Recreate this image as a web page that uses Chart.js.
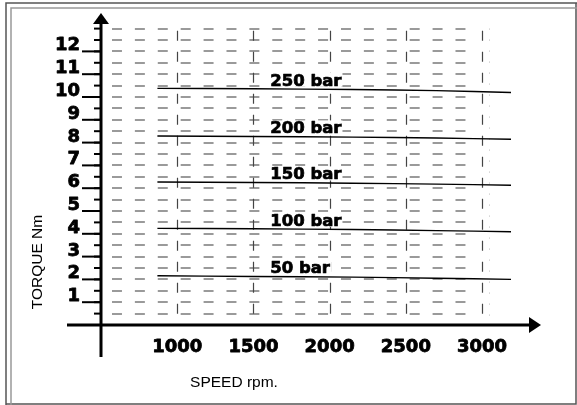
<!DOCTYPE html>
<html>
<head>
<meta charset="utf-8">
<title>Torque vs speed</title>
<script src="https://cdn.jsdelivr.net/npm/chart.js@4.4.1/dist/chart.umd.min.js"></script>
<style>
  html, body { margin: 0; padding: 0; background: #fff; }
  #grafico { display: block; }
</style>
</head>
<body>
<canvas id="grafico" width="577" height="405"></canvas>
<script>
// ---- datos de las curvas (par vs velocidad) ----
const velocidades = [870, 1500, 2150, 2700, 3190];
const par250 = [10.38, 10.36, 10.33, 10.28, 10.20];
const par200 = [8.29, 8.27, 8.24, 8.20, 8.15];
const par150 = [6.27, 6.25, 6.22, 6.18, 6.13];
const par100 = [4.24, 4.22, 4.19, 4.14, 4.09];
const par50 = [2.16, 2.13, 2.10, 2.05, 2.00];
const presiones = ["250 bar", "200 bar", "150 bar", "100 bar", "50 bar"];
const rpmEtiqueta = 1610;

// ---- ejes ----
const ticksY = [1, 2, 3, 4, 5, 6, 7, 8, 9, 10, 11, 12];
const etiquetasY = ["1", "2", "3", "4", "5", "6", "7", "8", "9", "10", "11", "12"];
const ticksX = [1000, 1500, 2000, 2500, 3000];
const etiquetasX = ["1000", "1500", "2000", "2500", "3000"];
const tituloY = "TORQUE Nm";
const tituloX = "SPEED rpm.";

const series = [par250, par200, par150, par100, par50];

const datasets = series.map((serie, i) => ({
  label: presiones[i],
  data: velocidades.map((v, j) => ({ x: v, y: serie[j] })),
  borderColor: "#000",
  borderWidth: 1.4,
  pointRadius: 0,
  tension: 0.3,
  fill: false
}));

// texto grueso: relleno + contorno fino
function textoGrueso(ctx, txt, px, py) {
  ctx.fillText(txt, px, py);
  ctx.strokeText(txt, px, py);
}

// rejilla punteada, marco de la hoja
const fondoPlugin = {
  id: "fondo",
  beforeDatasetsDraw(chart) {
    const ctx = chart.ctx;
    const x = chart.scales.x;
    const y = chart.scales.y;
    ctx.save();

    // marco
    ctx.lineWidth = 1.5;
    ctx.strokeStyle = "#555";
    ctx.beginPath();
    ctx.moveTo(6, 405); ctx.lineTo(6, 3); ctx.lineTo(577, 3);
    ctx.moveTo(576, 3); ctx.lineTo(576, 404); ctx.lineTo(6, 404);
    ctx.stroke();
    ctx.strokeStyle = "#999";
    ctx.beginPath();
    ctx.moveTo(11, 405); ctx.lineTo(11, 8); ctx.lineTo(577, 8);
    ctx.stroke();

    // lineas horizontales a trazos cada 0.5 Nm
    ctx.strokeStyle = "#7a7a7a";
    ctx.lineWidth = 1.5;
    ctx.setLineDash([10, 12.9]);
    const xIni = x.getPixelForValue(572);
    const xFin = x.getPixelForValue(2895);
    for (let v = 0.5; v <= 13; v += 0.5) {
      const py = Math.round(y.getPixelForValue(v));
      ctx.beginPath();
      ctx.moveTo(xIni, py);
      ctx.lineTo(xFin, py);
      ctx.stroke();
    }

    // lineas verticales en cada marca de velocidad
    ctx.strokeStyle = "#444";
    ctx.lineWidth = 1.2;
    ctx.setLineDash([10, 11]);
    ticksX.forEach((t) => {
      const px = Math.round(x.getPixelForValue(t)) + 0.5;
      ctx.beginPath();
      ctx.moveTo(px, y.getPixelForValue(12.9));
      ctx.lineTo(px, y.getPixelForValue(0.45));
      ctx.stroke();
    });

    // linea punteada tenue a la derecha
    ctx.strokeStyle = "#bbb";
    ctx.lineWidth = 1;
    ctx.setLineDash([1, 10]);
    const pxd = Math.round(x.getPixelForValue(3045)) + 0.5;
    ctx.beginPath();
    ctx.moveTo(pxd, y.getPixelForValue(13));
    ctx.lineTo(pxd, y.getPixelForValue(0));
    ctx.stroke();

    // fondo blanco tras los nombres de las curvas
    ctx.setLineDash([]);
    ctx.font = "bold 16.5px 'DejaVu Sans'";
    ctx.fillStyle = "#fff";
    const pxEtiqueta = x.getPixelForValue(rpmEtiqueta);
    series.forEach((serie, i) => {
      const base = y.getPixelForValue(serie[1]) - 3;
      const ancho = ctx.measureText(presiones[i]).width;
      ctx.fillRect(pxEtiqueta - 1, base - 13, ancho + 2, 14);
    });

    ctx.restore();
  }
};

// ejes con flechas, marcas y textos
const ejesPlugin = {
  id: "ejes",
  afterDatasetsDraw(chart) {
    const ctx = chart.ctx;
    const x = chart.scales.x;
    const y = chart.scales.y;
    const x0 = x.getPixelForValue(500);
    const y0 = y.getPixelForValue(0);
    const area = chart.chartArea;
    ctx.save();
    ctx.setLineDash([]);
    ctx.strokeStyle = "#000";
    ctx.fillStyle = "#000";

    // eje Y
    ctx.lineWidth = 3;
    ctx.beginPath();
    ctx.moveTo(x0, y0 + 32);
    ctx.lineTo(x0, area.top + 8);
    ctx.stroke();
    ctx.beginPath();
    ctx.moveTo(x0, area.top - 1);
    ctx.lineTo(x0 - 8, area.top + 10);
    ctx.lineTo(x0 + 8, area.top + 10);
    ctx.closePath();
    ctx.fill();

    // eje X
    ctx.beginPath();
    ctx.moveTo(67, y0);
    ctx.lineTo(area.right - 8, y0);
    ctx.stroke();
    ctx.beginPath();
    ctx.moveTo(area.right + 1, y0);
    ctx.lineTo(area.right - 11, y0 - 8);
    ctx.lineTo(area.right - 11, y0 + 8);
    ctx.closePath();
    ctx.fill();

    // marcas menores del eje Y
    ctx.lineWidth = 2;
    for (let v = 0.5; v <= 13; v += 0.5) {
      const py = y.getPixelForValue(v);
      ctx.beginPath();
      ctx.moveTo(x0 - 7, py);
      ctx.lineTo(x0, py);
      ctx.stroke();
    }

    // marcas mayores y etiquetas del eje Y
    ticksY.forEach((t) => {
      const py = y.getPixelForValue(t);
      ctx.lineWidth = 2;
      ctx.beginPath();
      ctx.moveTo(x0 - 19, py);
      ctx.lineTo(x0, py);
      ctx.stroke();
    });
    ctx.font = "bold 18px 'DejaVu Sans'";
    ctx.lineWidth = 0.8;
    ctx.lineJoin = "round";
    ctx.textAlign = "right";
    ctx.textBaseline = "alphabetic";
    ticksY.forEach((t, i) => {
      textoGrueso(ctx, etiquetasY[i], x0 - 21, y.getPixelForValue(t) - 1);
    });

    // etiquetas del eje X
    ctx.textAlign = "center";
    ctx.textBaseline = "middle";
    ticksX.forEach((t, i) => {
      textoGrueso(ctx, etiquetasX[i], x.getPixelForValue(t), y0 + 22);
    });

    // nombres de las curvas
    ctx.font = "bold 16.5px 'DejaVu Sans'";
    ctx.lineWidth = 0.7;
    ctx.textAlign = "left";
    ctx.textBaseline = "alphabetic";
    const pxEtiqueta = x.getPixelForValue(rpmEtiqueta);
    series.forEach((serie, i) => {
      textoGrueso(ctx, presiones[i], pxEtiqueta, y.getPixelForValue(serie[1]) - 3);
    });

    // titulos de los ejes
    ctx.font = "15.5px 'Liberation Sans'";
    ctx.textAlign = "center";
    ctx.textBaseline = "middle";
    ctx.fillText(tituloX, 234, 383);
    ctx.save();
    ctx.translate(38, 262);
    ctx.rotate(-Math.PI / 2);
    ctx.fillText(tituloY, 0, 0);
    ctx.restore();

    ctx.restore();
  }
};

const config = {
  type: "line",
  data: { datasets },
  options: {
    responsive: false,
    animation: false,
    layout: { padding: { left: 101, right: 37, top: 14, bottom: 80 } },
    scales: {
      x: { type: "linear", min: 500, max: 3380, display: false },
      y: { type: "linear", min: 0, max: 13.64, display: false }
    },
    plugins: {
      legend: { display: false },
      tooltip: { enabled: false }
    }
  },
  plugins: [fondoPlugin, ejesPlugin]
};

const miGrafico = new Chart(document.getElementById("grafico"), config);
</script>
</body>
</html>
